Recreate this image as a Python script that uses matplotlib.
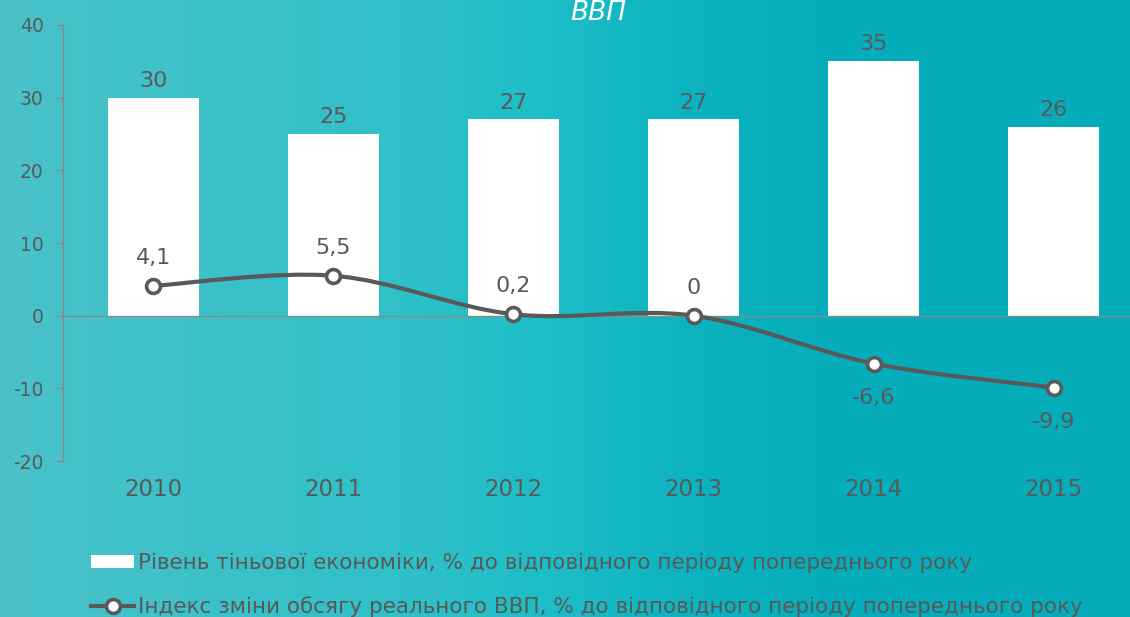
import numpy as np
import matplotlib
matplotlib.use("Agg")
from matplotlib import pyplot as plt
from matplotlib.path import Path
from matplotlib.patches import PathPatch, Patch
from matplotlib.lines import Line2D
from matplotlib.colors import LinearSegmentedColormap

plt.rcParams['font.family'] = ['DejaVu Sans']
plt.rcParams['axes.unicode_minus'] = False

years = ['2010', '2011', '2012', '2013', '2014', '2015']
shadow = [30, 25, 27, 27, 35, 26]
gdp_index = [4.1, 5.5, 0.2, 0.0, -6.6, -9.9]
gdp_labels = ['4,1', '5,5', '0,2', '0', '-6,6', '-9,9']
label_above = [True, True, True, True, False, False]

legend_bar = 'Рівень тіньової економіки, % до відповідного періоду попереднього року'
legend_line = 'Індекс зміни обсягу реального ВВП, % до відповідного періоду попереднього року'

txt = '#595959'
axis_gray = '#8a8a8a'
line_gray = '#595959'

W, H = 1130, 617
fig = plt.figure(figsize=(W / 100, H / 100), dpi=100)

# background gradient
bg = fig.add_axes([0, 0, 1, 1], zorder=-10)
cmap = LinearSegmentedColormap.from_list('bg', [
    (0.0, '#4ac2ca'), (0.38, '#2dc0c8'), (0.48, '#1dbec7'),
    (0.62, '#0bb2bf'), (0.72, '#06aebb'), (1.0, '#05acb9')])
bg.imshow(np.linspace(0, 1, 512)[None, :], aspect='auto', cmap=cmap,
          extent=[0, 1, 0, 1])
bg.set_axis_off()

ax = fig.add_axes([63 / W, (H - 461) / H, (1144 - 63) / W, (461 - 25) / H])
ax.patch.set_alpha(0)
x = np.arange(len(years))

ax.bar(x, shadow, width=0.505, color='white', zorder=2)
for xi, v in zip(x, shadow):
    ax.annotate(str(v), (xi, v), xytext=(0, 5), textcoords='offset points',
                ha='center', va='bottom', fontsize=16, color=txt)

# smoothed line (bezier through the data points)
pts = np.column_stack([x, gdp_index]).astype(float)
verts = [pts[0]]
codes = [Path.MOVETO]
n = len(pts)
for i in range(n - 1):
    p0 = pts[i - 1] if i > 0 else pts[i]
    p1, p2 = pts[i], pts[i + 1]
    p3 = pts[i + 2] if i + 2 < n else pts[i + 1]
    verts += [p1 + (p2 - p0) / 6, p2 - (p3 - p1) / 6, p2]
    codes += [Path.CURVE4] * 3
ax.add_patch(PathPatch(Path(verts, codes), facecolor='none', edgecolor=line_gray,
                       lw=3.0, zorder=4, capstyle='round'))
ax.plot(x, gdp_index, ls='none', marker='o', ms=10, mfc='white', mec=line_gray,
        mew=2.6, zorder=5)
for xi, v, lab, up in zip(x, gdp_index, gdp_labels, label_above):
    ax.annotate(lab, (xi, v), xytext=(0, 20 if up else -25), textcoords='offset points',
                ha='center', va='center', fontsize=16, color=txt)

ax.set_xlim(-0.5, 5.5)
ax.set_ylim(-20, 40)
ax.set_yticks(range(-20, 41, 10))
ax.set_xticks(x)
ax.set_xticklabels(years)
ax.axhline(0, color=axis_gray, lw=1.0, zorder=3)
for s in ['top', 'right', 'bottom']:
    ax.spines[s].set_visible(False)
ax.spines['left'].set_color(axis_gray)
ax.spines['left'].set_linewidth(1.0)
ax.tick_params(axis='y', colors=axis_gray, labelcolor=txt, labelsize=13.5,
               length=5, width=1.0, pad=9)
ax.tick_params(axis='x', length=0, labelcolor=txt, labelsize=16.5, pad=12)

fig.text(598 / W, 1 - 20 / H, 'ВВП', color='white', fontsize=19, style='italic',
         ha='center', va='baseline')

handles = [Patch(facecolor='white', edgecolor='none'),
           Line2D([], [], color=line_gray, lw=3, marker='o', ms=10, mfc='white',
                  mec=line_gray, mew=2.6)]
fig.legend(handles, [legend_bar, legend_line], loc='upper left',
           bbox_to_anchor=(91 / W, 1 - 553 / H), frameon=False, fontsize=15.5,
           labelcolor=txt, handlelength=2.0, handleheight=0.55, handletextpad=0.2,
           labelspacing=1.05, borderaxespad=0, borderpad=0)

fig.savefig('out.png', dpi=100)
